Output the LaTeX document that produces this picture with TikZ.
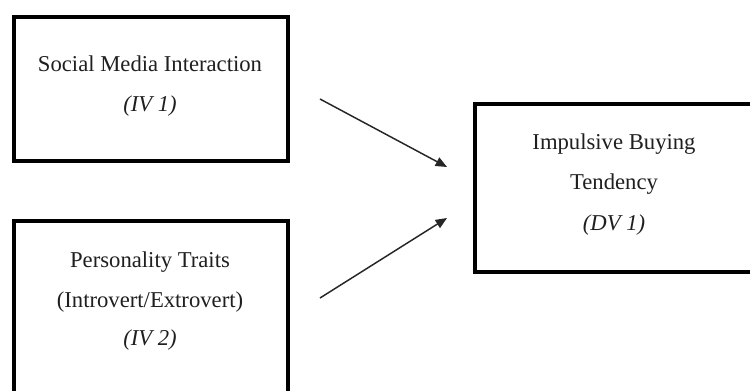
\documentclass[tikz,border=0pt]{standalone}
\usepackage{fontspec}
\setmainfont{Liberation Serif}
\usetikzlibrary{arrows.meta}
\begin{document}
\begin{tikzpicture}[x=0.75pt,y=-0.75pt,
  box/.style={draw=black, line width=3pt, inner sep=0pt, minimum width=205.5pt},
  lbl/.style={font=\fontsize{17}{30}\selectfont, text=black!88, inner sep=0pt, anchor=base},
  conn/.style={draw=black!85, line width=1.1pt, -{Triangle[length=8.5pt,width=7pt]}}]
\useasboundingbox (0,0) rectangle (750,390);
\clip (0,0) rectangle (750,390);
\fill[white] (0,0) rectangle (750,390);
% boxes
\node[box, minimum height=108pt] (b1) at (151,89) {};
\node[box, minimum height=134.25pt] (b2) at (151,310.5) {};
\node[box, minimum width=211.5pt, minimum height=126pt] (b3) at (616,188) {};
% texts
\node[lbl] (t11) at (150,71) {Social Media Interaction};
\node[lbl] (t12) at (150,111) {\textit{(IV 1)}};
\node[lbl] (t21) at (150,267) {Personality Traits};
\node[lbl] (t22) at (150,307) {(Introvert/Extrovert)};
\node[lbl] (t23) at (150,345) {\textit{(IV 2)}};
\node[lbl] (t31) at (614,149) {Impulsive Buying};
\node[lbl] (t32) at (614,189) {Tendency};
\node[lbl] (t33) at (614,230) {\textit{(DV 1)}};
% connectors
\coordinate (a1s) at (320,99);
\coordinate (a1e) at (447,167);
\coordinate (a2s) at (320,298);
\coordinate (a2e) at (447,218);
\draw[conn] (a1s) -- (a1e);
\draw[conn] (a2s) -- (a2e);
\end{tikzpicture}
\end{document}
